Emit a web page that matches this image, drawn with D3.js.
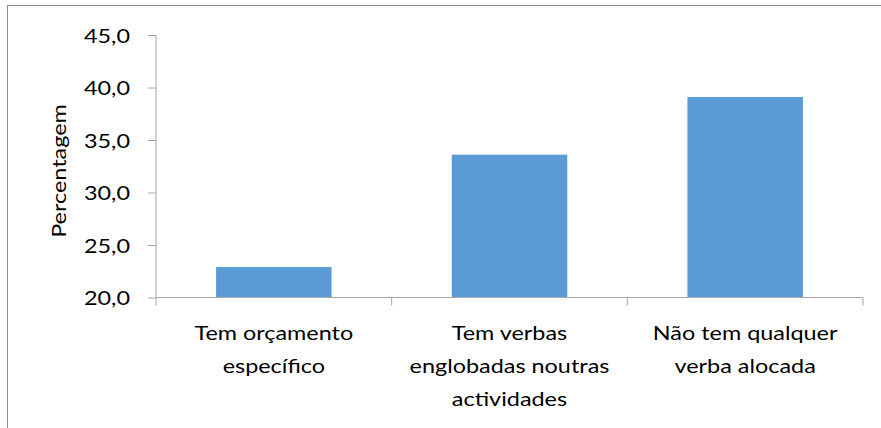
<!DOCTYPE html>
<html>
<head>
<meta charset="utf-8">
<script src="https://cdn.jsdelivr.net/npm/d3@7"></script>
<style>
  html, body { margin: 0; padding: 0; background: #fff; }
  svg { display: block; }
  text { font-family: Lato, "Open Sans", sans-serif; font-weight: 400; fill: #000; }
</style>
</head>
<body>
<svg id="chart" width="881" height="428"></svg>
<script>
// Funding situation (percentage of respondents)
const categories = ["Tem orçamento específico", "Tem verbas englobadas noutras actividades", "Não tem qualquer verba alocada"];
const categoryLines = [
  ["Tem orçamento", "específico"],
  ["Tem verbas", "englobadas noutras", "actividades"],
  ["Não tem qualquer", "verba alocada"]
];
const values = [22.9, 33.6, 39.1];
const yTicks = [20, 25, 30, 35, 40, 45];
const yTitle = "Percentagem";

const W = 881, H = 428;
const plot = { left: 156, right: 863, top: 35, bottom: 297.5 };
const axisColor = "#a6a6a6";
const barColor = "#5b9bd5";
const fontSize = 20;
const widen = 1.17;

const svg = d3.select("#chart");

// outer chart frame
svg.append("rect")
  .attr("x", 7.5).attr("y", 5.5)
  .attr("width", W + 20).attr("height", H + 20)
  .attr("fill", "none").attr("stroke", "#8c8c8c").attr("stroke-width", 1);

const x = d3.scaleBand()
  .domain(categories)
  .range([plot.left, plot.right])
  .paddingInner(0.51)
  .paddingOuter(0.255);

const y = d3.scaleLinear().domain([20, 45]).range([plot.bottom, plot.top]);

// stretch text along its baseline a little
function widenText(sel) {
  sel.each(function () {
    const w = this.getComputedTextLength();
    d3.select(this).attr("textLength", w * widen).attr("lengthAdjust", "spacingAndGlyphs");
  });
}

// bars
svg.append("g").selectAll("rect")
  .data(values)
  .join("rect")
  .attr("x", (d, i) => x(categories[i]))
  .attr("y", d => y(d))
  .attr("width", x.bandwidth())
  .attr("height", d => y(20) - y(d))
  .attr("fill", barColor);

// y axis
const yAxis = svg.append("g")
  .attr("transform", `translate(${plot.left},0)`)
  .call(d3.axisLeft(y).tickValues(yTicks).tickSize(8).tickPadding(18)
    .tickFormat(d => d3.format(".1f")(d).replace(".", ",")));
yAxis.select(".domain").attr("stroke", axisColor).attr("d", `M0,${plot.top}V${plot.bottom}`);
yAxis.selectAll(".tick line").attr("stroke", axisColor);
yAxis.selectAll(".tick text")
  .attr("font-size", fontSize).attr("font-family", null).attr("fill", "#000")
  .attr("dy", "0.36em")
  .call(widenText);

// x axis line with boundary ticks
const step = x.step();
const boundaries = d3.range(categories.length + 1).map(i => plot.left + i * step);
const xAxis = svg.append("g");
xAxis.append("line")
  .attr("x1", plot.left).attr("x2", plot.right)
  .attr("y1", plot.bottom).attr("y2", plot.bottom)
  .attr("stroke", axisColor);
xAxis.selectAll("line.tk")
  .data(boundaries)
  .join("line")
  .attr("class", "tk")
  .attr("x1", d => d).attr("x2", d => d)
  .attr("y1", plot.bottom).attr("y2", plot.bottom + 8)
  .attr("stroke", axisColor);

// category labels
const lineGap = 33;
const firstBaseline = 340;
categories.forEach((c, i) => {
  const cx = x(c) + x.bandwidth() / 2;
  svg.append("g").selectAll("text")
    .data(categoryLines[i])
    .join("text")
    .attr("x", cx)
    .attr("y", (d, j) => firstBaseline + j * lineGap)
    .attr("text-anchor", "middle")
    .attr("font-size", fontSize)
    .text(d => d)
    .call(widenText);
});

// y axis title
svg.append("text")
  .attr("transform", `translate(66,171) rotate(-90)`)
  .attr("text-anchor", "middle")
  .attr("font-size", fontSize)
  .text(yTitle)
  .call(widenText);
</script>
</body>
</html>
